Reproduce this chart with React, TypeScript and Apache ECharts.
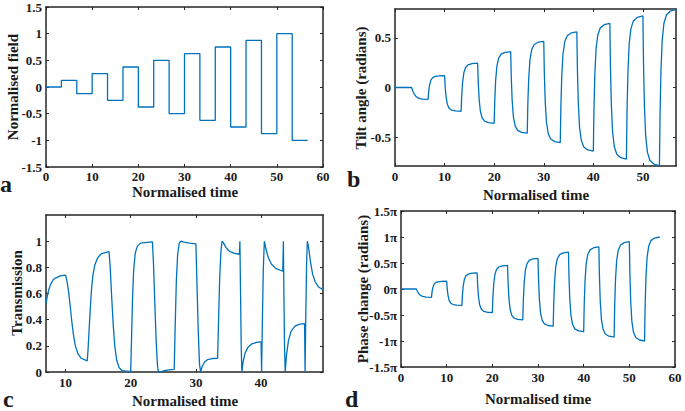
import React, { useEffect, useRef } from "react";
import * as echarts from "echarts";

// ---------- data ----------
const fieldTimes = [0, 3.33, 6.67, 10, 13.33, 16.67, 20, 23.33, 26.67, 30, 33.33, 36.67, 40, 43.33, 46.67, 50, 53.33, 56.67];
const fieldValues = [0, 0.125, -0.125, 0.25, -0.25, 0.375, -0.375, 0.5, -0.5, 0.625, -0.625, 0.75, -0.75, 0.875, -0.875, 1, -1, -1];

const tiltCurve = [
  [0, 0], [3.33, 0], [3.45, -0.015], [3.63, -0.04], [3.88, -0.066], [4.23, -0.09], [4.73, -0.107], [5.53, -0.116],
  [6.67, -0.12], [6.79, -0.043], [6.97, 0.024], [7.22, 0.072], [7.57, 0.098], [8.07, 0.112], [8.87, 0.118],
  [10, 0.12], [10.12, 0.005], [10.3, -0.096], [10.55, -0.168], [10.9, -0.208], [11.4, -0.227], [12.2, -0.236],
  [13.33, -0.24], [13.45, -0.085], [13.63, 0.051], [13.88, 0.148], [14.23, 0.201], [14.73, 0.228], [15.53, 0.24],
  [16.67, 0.245], [16.79, 0.051], [16.97, -0.118], [17.22, -0.239], [17.57, -0.306], [18.07, -0.339], [18.87, -0.354],
  [20, -0.36], [20.12, -0.13], [20.3, 0.072], [20.55, 0.216], [20.9, 0.295], [21.4, 0.335], [22.2, 0.353],
  [23.33, 0.36], [23.45, 0.098], [23.63, -0.132], [23.88, -0.296], [24.23, -0.386], [24.73, -0.431], [25.53, -0.452],
  [26.67, -0.46], [26.79, -0.164], [26.97, 0.095], [27.22, 0.28], [27.57, 0.382], [28.07, 0.433], [28.87, 0.456],
  [30, 0.465], [30.12, 0.139], [30.3, -0.147], [30.55, -0.351], [30.9, -0.463], [31.4, -0.519], [32.2, -0.545],
  [33.33, -0.555], [33.45, -0.198], [33.63, 0.114], [33.88, 0.337], [34.23, 0.46], [34.73, 0.521], [35.53, 0.549],
  [36.67, 0.56], [36.79, 0.176], [36.97, -0.16], [37.22, -0.4], [37.57, -0.532], [38.07, -0.598], [38.87, -0.628],
  [40, -0.64], [40.12, -0.229], [40.3, 0.131], [40.55, 0.388], [40.9, 0.529], [41.4, 0.6], [42.2, 0.632],
  [43.33, 0.645], [43.45, 0.208], [43.63, -0.174], [43.88, -0.447], [44.23, -0.597], [44.73, -0.672], [45.53, -0.706],
  [46.67, -0.72], [46.79, -0.259], [46.97, 0.144], [47.22, 0.432], [47.57, 0.59], [48.07, 0.67], [48.87, 0.706],
  [50, 0.72], [50.12, 0.238], [50.3, -0.183], [50.55, -0.484], [50.9, -0.65], [51.4, -0.732], [52.2, -0.77],
  [53.33, -0.785], [53.45, -0.283], [53.63, 0.157], [53.88, 0.471], [54.23, 0.644], [54.73, 0.73], [55.53, 0.769], [56.67, 0.785],
];

const transmissionCurve = [
  [7.0, 0.52], [7.2, 0.58], [7.4, 0.625], [7.7, 0.67], [8.1, 0.705], [8.5, 0.72], [9.2, 0.735], [10, 0.74],
  [10.2, 0.7], [10.45, 0.62], [10.7, 0.51], [10.95, 0.39], [11.2, 0.29], [11.5, 0.2], [11.9, 0.14], [12.4, 0.105], [13.33, 0.085],
  [13.45, 0.17], [13.6, 0.31], [13.8, 0.49], [14.0, 0.64], [14.2, 0.74], [14.5, 0.82], [14.9, 0.87], [15.5, 0.905], [16.67, 0.92],
  [16.85, 0.8], [17.05, 0.6], [17.3, 0.37], [17.55, 0.2], [17.85, 0.09], [18.2, 0.035], [18.7, 0.01], [20, 0.003],
  [20.12, 0.25], [20.27, 0.55], [20.45, 0.78], [20.7, 0.91], [21.0, 0.96], [21.5, 0.985], [23.33, 0.995],
  [23.5, 0.82], [23.7, 0.52], [23.9, 0.24], [24.1, 0.05], [24.25, 0.0], [24.6, 0.0], [25.1, 0.01], [25.8, 0.017], [26.67, 0.02],
  [26.82, 0.35], [27.0, 0.7], [27.2, 0.9], [27.45, 0.985], [27.7, 1.0], [28.2, 0.993], [29, 0.985], [30, 0.98],
  [30.15, 0.7], [30.35, 0.33], [30.55, 0.06], [30.72, 0.0], [30.95, 0.04], [31.3, 0.075], [31.8, 0.095], [32.5, 0.103], [33.33, 0.105],
  [33.48, 0.4], [33.65, 0.72], [33.85, 0.93], [34.02, 1.0], [34.25, 0.985], [34.6, 0.953], [35.1, 0.925], [35.8, 0.908], [36.67, 0.9],
  [36.75, 1.0], [36.85, 0.6], [36.95, 0.2], [37.05, 0.0], [37.25, 0.08], [37.55, 0.145], [38.0, 0.19], [38.6, 0.215], [39.3, 0.226], [40, 0.23],
  [40.08, 0.0], [40.2, 0.4], [40.35, 0.8], [40.5, 1.0], [40.75, 0.94], [41.1, 0.875], [41.6, 0.823], [42.3, 0.79], [43.33, 0.77],
  [43.42, 1.0], [43.5, 0.6], [43.6, 0.2], [43.7, 0.0], [43.9, 0.13], [44.2, 0.24], [44.6, 0.31], [45.2, 0.35], [45.9, 0.366], [46.67, 0.37],
  [46.75, 0.0], [46.85, 0.4], [46.98, 0.82], [47.1, 1.0], [47.3, 0.95], [47.55, 0.85], [47.9, 0.75], [48.3, 0.69], [48.8, 0.65], [49.5, 0.63],
];

const phaseCurve = [
  [0, 0], [3.33, 0], [3.45, -0.02], [3.63, -0.053], [3.88, -0.088], [4.23, -0.12], [4.73, -0.143], [5.53, -0.155],
  [6.67, -0.16], [6.79, -0.061], [6.97, 0.026], [7.22, 0.088], [7.57, 0.122], [8.07, 0.139], [8.87, 0.147],
  [10, 0.15], [10.12, 0.001], [10.3, -0.129], [10.55, -0.222], [10.9, -0.273], [11.4, -0.299], [12.2, -0.31],
  [13.33, -0.315], [13.45, -0.115], [13.63, 0.06], [13.88, 0.185], [14.23, 0.254], [14.73, 0.288], [15.53, 0.304],
  [16.67, 0.31], [16.79, 0.065], [16.97, -0.149], [17.22, -0.302], [17.57, -0.386], [18.07, -0.428], [18.87, -0.447],
  [20, -0.455], [20.12, -0.164], [20.3, 0.091], [20.55, 0.273], [20.9, 0.373], [21.4, 0.423], [22.2, 0.446],
  [23.33, 0.455], [23.45, 0.119], [23.63, -0.175], [23.88, -0.385], [24.23, -0.501], [24.73, -0.558], [25.53, -0.585],
  [26.67, -0.595], [26.79, -0.216], [26.97, 0.116], [27.22, 0.353], [27.57, 0.483], [28.07, 0.549], [28.87, 0.578],
  [30, 0.59], [30.12, 0.172], [30.3, -0.193], [30.55, -0.454], [30.9, -0.598], [31.4, -0.669], [32.2, -0.702],
  [33.33, -0.715], [33.45, -0.259], [33.63, 0.14], [33.88, 0.425], [34.23, 0.582], [34.73, 0.66], [35.53, 0.696],
  [36.67, 0.71], [36.79, 0.22], [36.97, -0.208], [37.22, -0.514], [37.57, -0.682], [38.07, -0.766], [38.87, -0.805],
  [40, -0.82], [40.12, -0.298], [40.3, 0.158], [40.55, 0.484], [40.9, 0.663], [41.4, 0.753], [42.2, 0.794],
  [43.33, 0.81], [43.45, 0.255], [43.63, -0.231], [43.88, -0.578], [44.23, -0.769], [44.73, -0.864], [45.53, -0.908],
  [46.67, -0.925], [46.79, -0.338], [46.97, 0.176], [47.22, 0.543], [47.57, 0.745], [48.07, 0.846], [48.87, 0.892],
  [50, 0.91], [50.12, 0.299], [50.3, -0.236], [50.55, -0.618], [50.9, -0.828], [51.4, -0.933], [52.2, -0.981],
  [53.33, -1], [53.45, -0.36], [53.63, 0.2], [53.88, 0.6], [54.23, 0.82], [54.73, 0.93], [55.53, 0.98], [56.67, 1],
];

// tick labels
const ticksA_x = [0, 10, 20, 30, 40, 50, 60];
const ticksA_y = [-1.5, -1, -0.5, 0, 0.5, 1, 1.5];
const ticksB_x = [0, 10, 20, 30, 40, 50];
const ticksB_y = [-0.5, 0, 0.5];
const ticksC_x = [10, 20, 30, 40];
const ticksC_y = [0, 0.2, 0.4, 0.6, 0.8, 1];
const ticksD_x = [0, 10, 20, 30, 40, 50, 60];
const ticksD_y = [-1.5, -1, -0.5, 0, 0.5, 1, 1.5];

// ---------- styling ----------
const FONT = "'Liberation Serif', 'Times New Roman', serif";
const FRAME = "#262626";
const LINE = "#0072BD";

function axisPair(grid: number, min: number, max: number, ticks: number[], isX: boolean, margin: number, fmt?: (v: number) => string) {
  const base = {
    type: "value",
    gridIndex: grid,
    min,
    max,
    splitLine: { show: false },
    axisLine: { show: true, onZero: false, lineStyle: { color: FRAME, width: 1.5 } },
    axisTick: { show: true, inside: true, length: 3, customValues: ticks, lineStyle: { color: FRAME, width: 1 } },
  };
  const main = {
    ...base,
    position: isX ? "bottom" : "left",
    axisLabel: {
      show: true,
      customValues: ticks,
      margin,
      color: "#1a1a1a",
      fontFamily: FONT,
      fontWeight: "bold",
      fontSize: 13,
      formatter: fmt ? fmt : (v: number) => String(v),
    },
  };
  const mirror = {
    ...base,
    position: isX ? "top" : "right",
    axisLabel: { show: false },
  };
  return [main, mirror];
}

function txt(text: string, x: number, y: number, size: number, rotate = false, align = "center") {
  return {
    type: "text",
    x,
    y,
    rotation: rotate ? Math.PI / 2 : 0,
    style: {
      text,
      fill: "#1a1a1a",
      font: `bold ${size}px ${FONT}`,
      textAlign: align,
      textVerticalAlign: "middle",
    },
  };
}

export default function App() {
  const ref = useRef<HTMLDivElement>(null);
  useEffect(() => {
    if (!ref.current) return;
    const chart = echarts.init(ref.current, null, { renderer: "svg" });
    const grids = [
      { left: 46, top: 7, width: 277, height: 160 },
      { left: 395, top: 9, width: 281, height: 157 },
      { left: 46, top: 215, width: 277, height: 157 },
      { left: 401, top: 211, width: 274, height: 156 },
    ].map((g) => ({ ...g, containLabel: false, outerBoundsMode: "none", show: false }));

    const xAxis = [
      ...axisPair(0, 0, 60, ticksA_x, true, 3),
      ...axisPair(1, 0, 56.67, ticksB_x, true, 4),
      ...axisPair(2, 7, 49.5, ticksC_x, true, 4),
      ...axisPair(3, 0, 60, ticksD_x, true, 4),
    ];
    const yAxis = [
      ...axisPair(0, -1.5, 1.5, ticksA_y, false, 4),
      ...axisPair(1, -0.79, 0.79, ticksB_y, false, 4),
      ...axisPair(2, 0, 1.2, ticksC_y, false, 4),
      ...axisPair(3, -1.5, 1.5, ticksD_y, false, 4, (v: number) => `${v}π`),
    ];

    const lineBase = {
      type: "line",
      showSymbol: false,
      symbol: "none",
      lineStyle: { color: LINE, width: 1.3 },
      itemStyle: { color: LINE },
      silent: true,
      clip: true,
    };

    const fieldData = fieldTimes.map((t, i) => [t, fieldValues[i]]);

    chart.setOption({
      animation: false,
      backgroundColor: "#ffffff",
      grid: grids,
      xAxis,
      yAxis,
      series: [
        { ...lineBase, step: "end", data: fieldData, xAxisIndex: 0, yAxisIndex: 0 },
        { ...lineBase, data: tiltCurve, xAxisIndex: 2, yAxisIndex: 2 },
        { ...lineBase, data: transmissionCurve, xAxisIndex: 4, yAxisIndex: 4 },
        { ...lineBase, data: phaseCurve, xAxisIndex: 6, yAxisIndex: 6 },
      ],
      graphic: [
        txt("Normalised field", 13, 87, 15, true),
        txt("Tilt angle (radians)", 361, 88, 15, true),
        txt("Transmission", 17, 293, 15, true),
        txt("Phase change (radians)", 363, 289, 15, true),
        txt("Normalised time", 185, 192, 15),
        txt("Normalised time", 536, 195, 15),
        txt("Normalised time", 185, 401, 15),
        txt("Normalised time", 538, 399, 15),
        txt("a", 0, 184, 24, false, "left"),
        txt("b", 347, 179, 24, false, "left"),
        txt("c", 3, 399, 24, false, "left"),
        txt("d", 345, 399, 24, false, "left"),
      ],
    });
    return () => chart.dispose();
  }, []);
  return (
    <div
      ref={ref}
      style={{ position: "fixed", left: 0, top: 0, width: 685, height: 411, background: "#fff" }}
    />
  );
}
